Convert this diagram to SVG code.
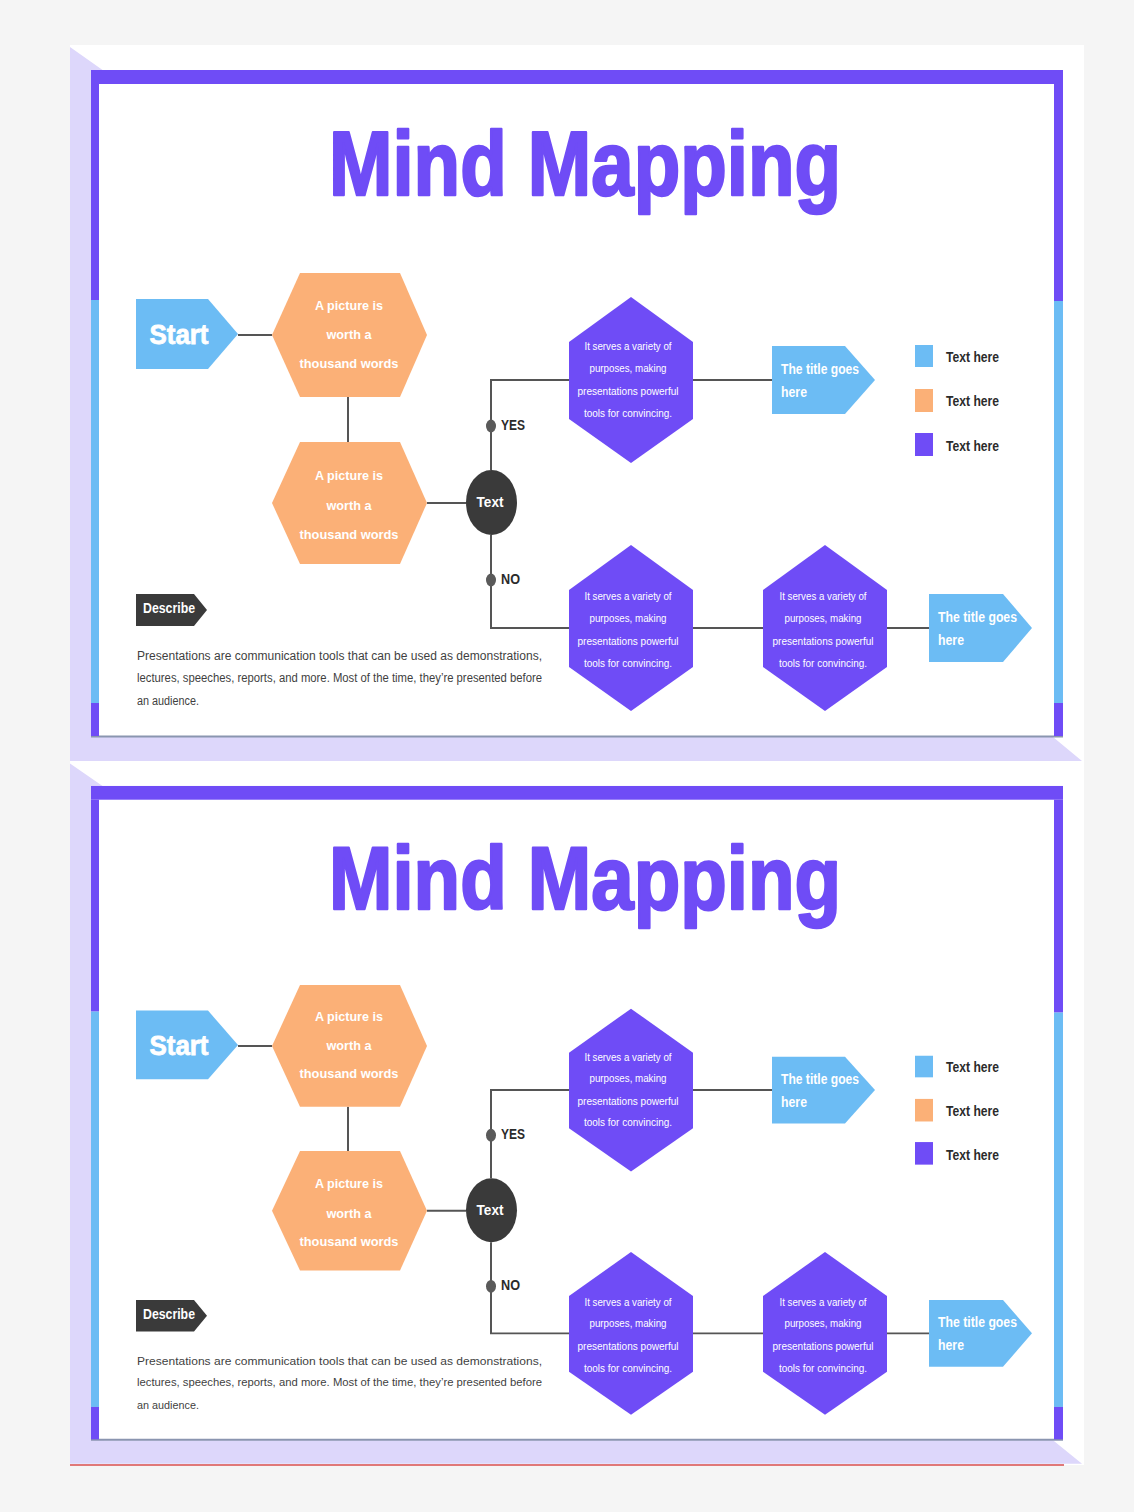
<svg xmlns="http://www.w3.org/2000/svg" width="1134" height="1512" viewBox="0 0 1134 1512">
<defs>
<style>
text{font-family:"Liberation Sans",Arial,sans-serif}
.lav{fill:#ddd7fb}
.pur{fill:#6f4cf6}
.blu{fill:#6cbcf4}
.org{fill:#fbb077}
.drk{fill:#3a3a3a}
.con{fill:none;stroke:#555555;stroke-width:2}
.dot{fill:#5a5a5a}
.title{font-size:90px;font-weight:bold;fill:#6f4cf6;stroke:#6f4cf6;stroke-width:2.5;stroke-linejoin:round;text-anchor:middle}
.start{font-size:28px;font-weight:bold;fill:#ffffff;stroke:#ffffff;stroke-width:0.8;text-anchor:middle}
.ho{font-size:13px;font-weight:bold;fill:#ffffff;text-anchor:middle}
.hp{font-size:10.5px;fill:#ffffff;text-anchor:middle}
.ttl{font-size:14px;font-weight:bold;fill:#ffffff}
.lbl{font-size:14px;font-weight:bold;fill:#2b2b2b}
.circ{font-size:15px;font-weight:bold;fill:#ffffff;text-anchor:middle}
.para{font-size:12px;fill:#3f3f3f}
</style>
</defs>
<rect x="0" y="0" width="1134" height="1512" fill="#f5f5f5"/>
<rect x="70" y="45" width="1014" height="1420" fill="#ffffff"/>
<line x1="70" y1="1465" x2="1064" y2="1465" stroke="#e07878" stroke-width="2"/>

<g id="slide-1">
 <g id="frame-1">
  <polygon class="lav" points="70,47 104,71 104,737 1053,737 1082,761 70,761"/>
  <rect x="91" y="70" width="972" height="666" fill="#ffffff"/>
  <line x1="91" y1="736.5" x2="1063" y2="736.5" stroke="#8a95b0" stroke-width="2"/>
  <rect class="pur" x="91" y="70" width="972" height="14"/>
  <rect class="pur" x="91" y="84" width="8" height="216"/>
  <rect class="blu" x="91" y="300" width="8" height="403"/>
  <rect class="pur" x="91" y="703" width="8" height="33"/>
  <rect class="pur" x="1054" y="84" width="9" height="217"/>
  <rect class="blu" x="1054" y="301" width="9" height="402"/>
  <rect class="pur" x="1054" y="703" width="9" height="33"/>
 </g>
 <text id="title-1" class="title" x="585" y="195" textLength="512" lengthAdjust="spacingAndGlyphs">Mind Mapping</text>
 <g id="connectors-1">
  <path class="con" d="M238,335 H272"/>
  <path class="con" d="M348,397 V442"/>
  <path class="con" d="M427,503 H466"/>
  <path class="con" d="M491,470 V380 H569"/>
  <path class="con" d="M491,535 V628 H569"/>
  <path class="con" d="M693,380 H772"/>
  <path class="con" d="M693,628 H763"/>
  <path class="con" d="M887,628 H929"/>
  <ellipse class="dot" cx="491" cy="426" rx="5" ry="6.5"/>
  <ellipse class="dot" cx="491" cy="580" rx="5" ry="6.5"/>
  <text class="lbl" x="501" y="430" textLength="24" lengthAdjust="spacingAndGlyphs">YES</text>
  <text class="lbl" x="501" y="584" textLength="19" lengthAdjust="spacingAndGlyphs">NO</text>
 </g>
 <g id="start-1">
  <polygon class="blu" points="136,299 208,299 238,334 208,369 136,369"/>
  <text class="start" x="179" y="344" textLength="59" lengthAdjust="spacingAndGlyphs">Start</text>
 </g>
 <g id="picture-a-1">
  <polygon class="org" points="300,273 400,273 427,335 400,397 300,397 272,335"/>
  <text class="ho" x="349" y="310" textLength="68" lengthAdjust="spacingAndGlyphs">A picture is</text>
  <text class="ho" x="349" y="339" textLength="45" lengthAdjust="spacingAndGlyphs">worth a</text>
  <text class="ho" x="349" y="368" textLength="99" lengthAdjust="spacingAndGlyphs">thousand words</text>
 </g>
 <g id="picture-b-1">
  <polygon class="org" points="300,442 400,442 427,503 400,564 300,564 272,503"/>
  <text class="ho" x="349" y="480" textLength="68" lengthAdjust="spacingAndGlyphs">A picture is</text>
  <text class="ho" x="349" y="510" textLength="45" lengthAdjust="spacingAndGlyphs">worth a</text>
  <text class="ho" x="349" y="539" textLength="99" lengthAdjust="spacingAndGlyphs">thousand words</text>
 </g>
 <g id="decision-1">
  <ellipse class="drk" cx="491.5" cy="502.5" rx="25.5" ry="32.5"/>
  <text class="circ" x="490" y="507" textLength="27" lengthAdjust="spacingAndGlyphs">Text</text>
 </g>
 <g id="purpose-a-1">
  <polygon class="pur" points="631,297 693,342 693,419 631,463 569,419 569,342"/>
  <text class="hp" x="628" y="350" textLength="87" lengthAdjust="spacingAndGlyphs">It serves a variety of</text>
  <text class="hp" x="628" y="372" textLength="77" lengthAdjust="spacingAndGlyphs">purposes, making</text>
  <text class="hp" x="628" y="395" textLength="101" lengthAdjust="spacingAndGlyphs">presentations powerful</text>
  <text class="hp" x="628" y="417" textLength="88" lengthAdjust="spacingAndGlyphs">tools for convincing.</text>
 </g>
 <g id="purpose-b-1">
  <polygon class="pur" points="631,545 693,590 693,667 631,711 569,667 569,590"/>
  <text class="hp" x="628" y="600" textLength="87" lengthAdjust="spacingAndGlyphs">It serves a variety of</text>
  <text class="hp" x="628" y="622" textLength="77" lengthAdjust="spacingAndGlyphs">purposes, making</text>
  <text class="hp" x="628" y="645" textLength="101" lengthAdjust="spacingAndGlyphs">presentations powerful</text>
  <text class="hp" x="628" y="667" textLength="88" lengthAdjust="spacingAndGlyphs">tools for convincing.</text>
 </g>
 <g id="purpose-c-1">
  <polygon class="pur" points="825,545 887,590 887,667 825,711 763,667 763,590"/>
  <text class="hp" x="823" y="600" textLength="87" lengthAdjust="spacingAndGlyphs">It serves a variety of</text>
  <text class="hp" x="823" y="622" textLength="77" lengthAdjust="spacingAndGlyphs">purposes, making</text>
  <text class="hp" x="823" y="645" textLength="101" lengthAdjust="spacingAndGlyphs">presentations powerful</text>
  <text class="hp" x="823" y="667" textLength="88" lengthAdjust="spacingAndGlyphs">tools for convincing.</text>
 </g>
 <g id="title-yes-1">
  <polygon class="blu" points="772,346 845,346 875,380 845,414 772,414"/>
  <text class="ttl" x="781" y="374" textLength="78" lengthAdjust="spacingAndGlyphs">The title goes</text>
  <text class="ttl" x="781" y="397" textLength="26" lengthAdjust="spacingAndGlyphs">here</text>
 </g>
 <g id="title-no-1">
  <polygon class="blu" points="929,594 1003,594 1032,628 1003,662 929,662"/>
  <text class="ttl" x="938" y="622" textLength="79" lengthAdjust="spacingAndGlyphs">The title goes</text>
  <text class="ttl" x="938" y="645" textLength="26" lengthAdjust="spacingAndGlyphs">here</text>
 </g>
 <g id="legend-1">
  <rect class="blu" x="915" y="345" width="18" height="22"/>
  <text class="lbl" x="946" y="362" textLength="53" lengthAdjust="spacingAndGlyphs">Text here</text>
  <rect class="org" x="915" y="389" width="18" height="23"/>
  <text class="lbl" x="946" y="406" textLength="53" lengthAdjust="spacingAndGlyphs">Text here</text>
  <rect class="pur" x="915" y="433" width="18" height="23"/>
  <text class="lbl" x="946" y="451" textLength="53" lengthAdjust="spacingAndGlyphs">Text here</text>
 </g>
 <g id="describe-1">
  <polygon class="drk" points="136,594 194,594 207,610 194,626 136,626"/>
  <text class="ttl" x="143" y="613" textLength="52" lengthAdjust="spacingAndGlyphs">Describe</text>
  <text class="para" x="137" y="660" textLength="405" lengthAdjust="spacingAndGlyphs">Presentations are communication tools that can be used as demonstrations,</text>
  <text class="para" x="137" y="682" textLength="405" lengthAdjust="spacingAndGlyphs">lectures, speeches, reports, and more. Most of the time, they’re presented before</text>
  <text class="para" x="137" y="705" textLength="62" lengthAdjust="spacingAndGlyphs">an audience.</text>
 </g>
</g>

<g id="slide-2" transform="matrix(1 0 0 0.981 0 717.3)">
 <g id="frame-2">
  <polygon class="lav" points="70,47 104,71 104,737 1053,737 1082,761 70,761"/>
  <rect x="91" y="70" width="972" height="666" fill="#ffffff"/>
  <line x1="91" y1="736.5" x2="1063" y2="736.5" stroke="#8a95b0" stroke-width="2"/>
  <rect class="pur" x="91" y="70" width="972" height="14"/>
  <rect class="pur" x="91" y="84" width="8" height="216"/>
  <rect class="blu" x="91" y="300" width="8" height="403"/>
  <rect class="pur" x="91" y="703" width="8" height="33"/>
  <rect class="pur" x="1054" y="84" width="9" height="217"/>
  <rect class="blu" x="1054" y="301" width="9" height="402"/>
  <rect class="pur" x="1054" y="703" width="9" height="33"/>
 </g>
 <text id="title-2" class="title" x="585" y="195" textLength="512" lengthAdjust="spacingAndGlyphs">Mind Mapping</text>
 <g id="connectors-2">
  <path class="con" d="M238,335 H272"/>
  <path class="con" d="M348,397 V442"/>
  <path class="con" d="M427,503 H466"/>
  <path class="con" d="M491,470 V380 H569"/>
  <path class="con" d="M491,535 V628 H569"/>
  <path class="con" d="M693,380 H772"/>
  <path class="con" d="M693,628 H763"/>
  <path class="con" d="M887,628 H929"/>
  <ellipse class="dot" cx="491" cy="426" rx="5" ry="6.5"/>
  <ellipse class="dot" cx="491" cy="580" rx="5" ry="6.5"/>
  <text class="lbl" x="501" y="430" textLength="24" lengthAdjust="spacingAndGlyphs">YES</text>
  <text class="lbl" x="501" y="584" textLength="19" lengthAdjust="spacingAndGlyphs">NO</text>
 </g>
 <g id="start-2">
  <polygon class="blu" points="136,299 208,299 238,334 208,369 136,369"/>
  <text class="start" x="179" y="344" textLength="59" lengthAdjust="spacingAndGlyphs">Start</text>
 </g>
 <g id="picture-a-2">
  <polygon class="org" points="300,273 400,273 427,335 400,397 300,397 272,335"/>
  <text class="ho" x="349" y="310" textLength="68" lengthAdjust="spacingAndGlyphs">A picture is</text>
  <text class="ho" x="349" y="339" textLength="45" lengthAdjust="spacingAndGlyphs">worth a</text>
  <text class="ho" x="349" y="368" textLength="99" lengthAdjust="spacingAndGlyphs">thousand words</text>
 </g>
 <g id="picture-b-2">
  <polygon class="org" points="300,442 400,442 427,503 400,564 300,564 272,503"/>
  <text class="ho" x="349" y="480" textLength="68" lengthAdjust="spacingAndGlyphs">A picture is</text>
  <text class="ho" x="349" y="510" textLength="45" lengthAdjust="spacingAndGlyphs">worth a</text>
  <text class="ho" x="349" y="539" textLength="99" lengthAdjust="spacingAndGlyphs">thousand words</text>
 </g>
 <g id="decision-2">
  <ellipse class="drk" cx="491.5" cy="502.5" rx="25.5" ry="32.5"/>
  <text class="circ" x="490" y="507" textLength="27" lengthAdjust="spacingAndGlyphs">Text</text>
 </g>
 <g id="purpose-a-2">
  <polygon class="pur" points="631,297 693,342 693,419 631,463 569,419 569,342"/>
  <text class="hp" x="628" y="350" textLength="87" lengthAdjust="spacingAndGlyphs">It serves a variety of</text>
  <text class="hp" x="628" y="372" textLength="77" lengthAdjust="spacingAndGlyphs">purposes, making</text>
  <text class="hp" x="628" y="395" textLength="101" lengthAdjust="spacingAndGlyphs">presentations powerful</text>
  <text class="hp" x="628" y="417" textLength="88" lengthAdjust="spacingAndGlyphs">tools for convincing.</text>
 </g>
 <g id="purpose-b-2">
  <polygon class="pur" points="631,545 693,590 693,667 631,711 569,667 569,590"/>
  <text class="hp" x="628" y="600" textLength="87" lengthAdjust="spacingAndGlyphs">It serves a variety of</text>
  <text class="hp" x="628" y="622" textLength="77" lengthAdjust="spacingAndGlyphs">purposes, making</text>
  <text class="hp" x="628" y="645" textLength="101" lengthAdjust="spacingAndGlyphs">presentations powerful</text>
  <text class="hp" x="628" y="667" textLength="88" lengthAdjust="spacingAndGlyphs">tools for convincing.</text>
 </g>
 <g id="purpose-c-2">
  <polygon class="pur" points="825,545 887,590 887,667 825,711 763,667 763,590"/>
  <text class="hp" x="823" y="600" textLength="87" lengthAdjust="spacingAndGlyphs">It serves a variety of</text>
  <text class="hp" x="823" y="622" textLength="77" lengthAdjust="spacingAndGlyphs">purposes, making</text>
  <text class="hp" x="823" y="645" textLength="101" lengthAdjust="spacingAndGlyphs">presentations powerful</text>
  <text class="hp" x="823" y="667" textLength="88" lengthAdjust="spacingAndGlyphs">tools for convincing.</text>
 </g>
 <g id="title-yes-2">
  <polygon class="blu" points="772,346 845,346 875,380 845,414 772,414"/>
  <text class="ttl" x="781" y="374" textLength="78" lengthAdjust="spacingAndGlyphs">The title goes</text>
  <text class="ttl" x="781" y="397" textLength="26" lengthAdjust="spacingAndGlyphs">here</text>
 </g>
 <g id="title-no-2">
  <polygon class="blu" points="929,594 1003,594 1032,628 1003,662 929,662"/>
  <text class="ttl" x="938" y="622" textLength="79" lengthAdjust="spacingAndGlyphs">The title goes</text>
  <text class="ttl" x="938" y="645" textLength="26" lengthAdjust="spacingAndGlyphs">here</text>
 </g>
 <g id="legend-2">
  <rect class="blu" x="915" y="345" width="18" height="22"/>
  <text class="lbl" x="946" y="362" textLength="53" lengthAdjust="spacingAndGlyphs">Text here</text>
  <rect class="org" x="915" y="389" width="18" height="23"/>
  <text class="lbl" x="946" y="406" textLength="53" lengthAdjust="spacingAndGlyphs">Text here</text>
  <rect class="pur" x="915" y="433" width="18" height="23"/>
  <text class="lbl" x="946" y="451" textLength="53" lengthAdjust="spacingAndGlyphs">Text here</text>
 </g>
 <g id="describe-2">
  <polygon class="drk" points="136,594 194,594 207,610 194,626 136,626"/>
  <text class="ttl" x="143" y="613" textLength="52" lengthAdjust="spacingAndGlyphs">Describe</text>
  <text class="para" x="137" y="660" textLength="405" lengthAdjust="spacingAndGlyphs">Presentations are communication tools that can be used as demonstrations,</text>
  <text class="para" x="137" y="682" textLength="405" lengthAdjust="spacingAndGlyphs">lectures, speeches, reports, and more. Most of the time, they’re presented before</text>
  <text class="para" x="137" y="705" textLength="62" lengthAdjust="spacingAndGlyphs">an audience.</text>
 </g>
</g>
</svg>
